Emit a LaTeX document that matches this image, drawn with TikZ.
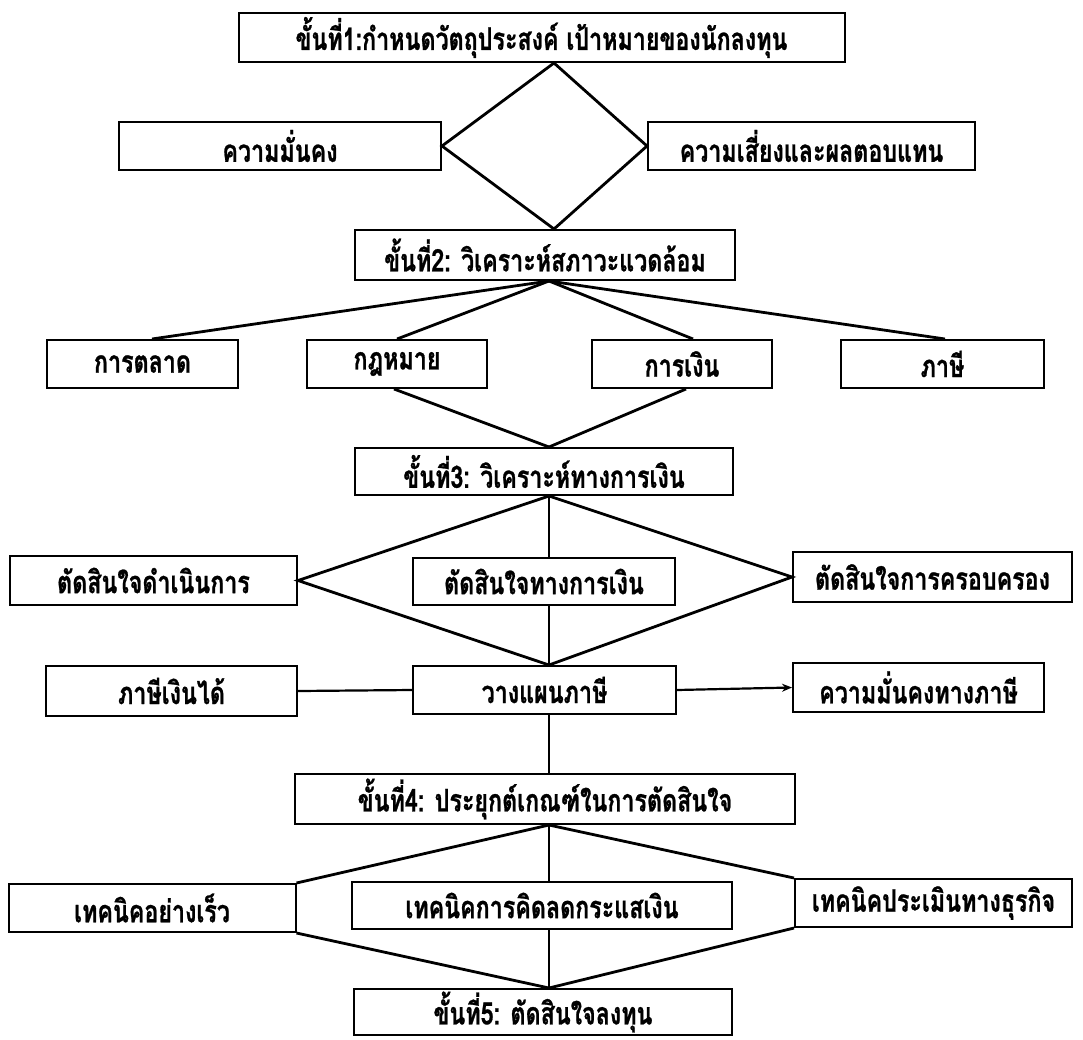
\documentclass[tikz,border=0pt]{standalone}
\usepackage{fontspec}
\newfontfamily\thaifont[Script=Thai,FakeStretch=0.75,BoldFeatures={FakeBold=0.8}]{Loma}
\usetikzlibrary{arrows.meta,calc}
\begin{document}
\begin{tikzpicture}[x=1pt,y=-1pt,
  box/.style={draw,line width=2pt,rectangle,inner sep=0pt,font=\thaifont\bfseries\fontsize{31}{34}\selectfont},
  thick line/.style={line width=2.8pt},
  thin line/.style={line width=1.3pt},
  mid line/.style={line width=2.2pt}]
\useasboundingbox (0,0) rectangle (1083,1039);
\coordinate (ax) at (549,0);
\coordinate (dx) at (554,0);
% boxes
\node[box,minimum width=606pt,minimum height=49pt] (s1) at (541.5,37.5) {ขั้นที่1:กำหนดวัตถุประสงค์ เป้าหมายของนักลงทุน};
\node[box,minimum width=322pt,minimum height=48pt] (sec) at (280,146) {ความมั่นคง};
\node[box,minimum width=327pt,minimum height=48pt] (risk) at (811.5,146) {ความเสี่ยงและผลตอบแทน};
\node[box,minimum width=380pt,minimum height=50pt] (s2) at (545,255) {ขั้นที่2: วิเคราะห์สภาวะแวดล้อม};
\node[box,minimum width=191pt,minimum height=48pt] (mkt) at (142.5,364) {การตลาด};
\node[box,minimum width=180pt,minimum height=48pt] (law) at (397,364) {กฎหมาย};
\node[box,minimum width=180pt,minimum height=48pt] (fin) at (682,364) {การเงิน};
\node[box,minimum width=203pt,minimum height=48pt] (tax) at (942.5,364) {ภาษี};
\node[box,minimum width=378pt,minimum height=47pt] (s3) at (544,471.5) {ขั้นที่3: วิเคราะห์ทางการเงิน};
\node[box,minimum width=287pt,minimum height=49pt] (op) at (153.5,580.5) {ตัดสินใจดำเนินการ};
\node[box,minimum width=262pt,minimum height=47pt] (fd) at (544,581.5) {ตัดสินใจทางการเงิน};
\node[box,minimum width=279pt,minimum height=50pt] (own) at (932.5,577) {ตัดสินใจการครอบครอง};
\node[box,minimum width=251pt,minimum height=50pt] (itax) at (171.5,691) {ภาษีเงินได้};
\node[box,minimum width=263pt,minimum height=48pt] (tp) at (544.5,690) {วางแผนภาษี};
\node[box,minimum width=251pt,minimum height=49pt] (tsec) at (918.5,687.5) {ความมั่นคงทางภาษี};
\node[box,minimum width=500pt,minimum height=50pt] (s4) at (545,799) {ขั้นที่4: ประยุกต์เกณฑ์ในการตัดสินใจ};
\node[box,minimum width=287pt,minimum height=48pt] (quick) at (152,908) {เทคนิคอย่างเร็ว};
\node[box,minimum width=380pt,minimum height=47pt] (dcf) at (542,905.5) {เทคนิคการคิดลดกระแสเงิน};
\node[box,minimum width=277pt,minimum height=48pt] (bus) at (933.5,903) {เทคนิคประเมินทางธุรกิจ};
\node[box,minimum width=378pt,minimum height=46pt] (s5) at (543,1012) {ขั้นที่5: ตัดสินใจลงทุน};
% diamond between step 1 and step 2
\draw[thick line,line join=miter] (s1.south -| dx) -- (sec.east) -- (s2.north -| dx) -- (risk.west) -- cycle;
% fan from step 2
\draw[thick line] (s2.south -| ax) -- ($(mkt.north)+(9.5,0)$);
\draw[thick line] (s2.south -| ax) -- (law.north);
\draw[thick line] (s2.south -| ax) -- ($(fin.north)+(11,0)$);
\draw[thick line] (s2.south -| ax) -- ($(tax.north)+(2.5,0)$);
% into step 3
\draw[thick line] ($(law.south)+(-3,0)$) -- (s3.north -| ax);
\draw[thick line] ($(fin.south)+(4,0)$) -- (s3.north -| ax);
% step 3 to decisions
\draw[thick line,line join=miter] (s3.south -| ax) -- (op.east) -- (tp.north -| ax);
\draw[thick line,line join=miter] (s3.south -| ax) -- (own.west) -- (tp.north -| ax);
\draw[thin line] (s3.south -| ax) -- (fd.north -| ax);
\draw[thin line] (fd.south -| ax) -- (tp.north -| ax);
% tax planning
\draw[mid line] (itax.east) -- (tp.west);
\draw[mid line,-{Stealth[length=10pt,width=8pt]}] (tp.east) -- (tsec.west);
\draw[thin line] (tp.south -| ax) -- (s4.north -| ax);
% step 4 to techniques
\draw[thick line] (s4.south -| ax) -- (quick.north east);
\draw[thick line] (s4.south -| ax) -- (bus.north west);
\draw[thin line] (s4.south -| ax) -- (dcf.north -| ax);
\draw[thick line] (quick.south east) -- (s5.north -| ax);
\draw[thick line] (bus.south west) -- (s5.north -| ax);
\draw[thin line] (dcf.south -| ax) -- (s5.north -| ax);
\end{tikzpicture}
\end{document}
